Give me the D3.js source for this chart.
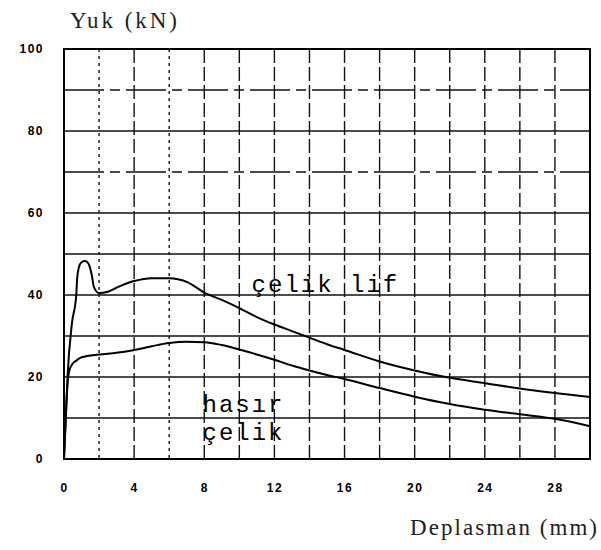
<!DOCTYPE html>
<html><head><meta charset="utf-8">
<script src="https://cdn.jsdelivr.net/npm/d3@7"></script>
<style>body{margin:0;background:#fff}</style>
</head><body>
<svg id="c" width="601" height="550"></svg>
<script>
// data
const celikLifX = [0, 0.1, 0.2, 0.45, 0.7, 0.75, 0.85, 1.0, 1.2, 1.4, 1.6, 1.7, 2.0, 2.5, 3.0, 4.0, 5.0, 6.0, 7.0, 8.0, 9.0, 10.0, 11, 12, 13, 14, 15, 16, 18, 20, 22, 24, 26, 28, 30];
const celikLifY = [0, 10, 20, 33, 40, 44, 46.8, 48, 48.3, 47.6, 44.5, 42, 40.5, 40.8, 41.8, 43.4, 44.1, 44.1, 43.2, 40.6, 38.8, 36.8, 34.6, 32.8, 31.2, 29.6, 28, 26.6, 23.8, 21.6, 19.8, 18.5, 17.2, 16.1, 15.1];
const hasirX = [0, 0.1, 0.2, 0.3, 0.45, 0.7, 1, 2, 3, 4, 5, 6, 7, 8, 9, 10, 11, 12, 13, 14, 15, 16, 18, 20, 22, 24, 26, 28, 30];
const hasirY = [0, 10, 18, 21.5, 23, 24, 24.8, 25.5, 25.9, 26.6, 27.5, 28.3, 28.6, 28.5, 27.8, 26.7, 25.5, 24.2, 22.8, 21.6, 20.5, 19.5, 17.3, 15.2, 13.4, 12, 10.9, 9.8, 8];
const xTicks = [0, 4, 8, 12, 16, 20, 24, 28];
const yTicks = [0, 20, 40, 60, 80, 100];
const xGrid = [2, 4, 6, 8, 10, 12, 14, 16, 18, 20, 22, 24, 26, 28];
const yGrid = [10, 20, 30, 40, 50, 60, 70, 80, 90];
const seriesLabels = [["çelik lif"], ["hasır", "çelik"]];
const labelPos = [[10.7, 40.8], [7.9, 11.5]];
const yTitle = "Yuk (kN)";
const xTitle = "Deplasman (mm)";

const svg = d3.select("#c");
const m = {l: 64, r: 11, t: 49, b: 91};
const W = 601, H = 550;
const x = d3.scaleLinear().domain([0, 30]).range([m.l, W - m.r]);
const y = d3.scaleLinear().domain([0, 100]).range([H - m.b, m.t]);

// grid
svg.append("g").selectAll("line").data(xGrid).join("line")
  .attr("x1", d => x(d)).attr("x2", d => x(d))
  .attr("y1", y(100)).attr("y2", y(0))
  .attr("stroke", "#111").attr("stroke-width", 1.4)
  .attr("stroke-dasharray", (d, i) => (d % 4 === 2 && d < 8) ? "3,4" : "14,4");
svg.append("g").selectAll("line").data(yGrid).join("line")
  .attr("x1", x(0)).attr("x2", x(30))
  .attr("y1", d => y(d)).attr("y2", d => y(d))
  .attr("stroke", "#111").attr("stroke-width", 1.5)
  .attr("stroke-dasharray", d => (d === 70 || d === 90) ? "40,6,10,6" : null);

// frame
svg.append("rect").attr("x", x(0)).attr("y", y(100))
  .attr("width", x(30) - x(0)).attr("height", y(0) - y(100))
  .attr("fill", "none").attr("stroke", "#000").attr("stroke-width", 2);

// axes
const ax = svg.append("g").attr("transform", `translate(0,${y(0)})`)
  .call(d3.axisBottom(x).tickValues(xTicks).tickSize(0).tickPadding(24).tickFormat(d3.format("d")));
const ay = svg.append("g").attr("transform", `translate(${x(0)},0)`)
  .call(d3.axisLeft(y).tickValues(yTicks).tickSize(0).tickPadding(20).tickFormat(d3.format("d")));
[ax, ay].forEach(a => {
  a.select(".domain").remove();
  a.selectAll("text").attr("font-family", "Liberation Sans, Arial, sans-serif")
    .attr("font-size", 12).attr("font-weight", "bold").attr("letter-spacing", 1.5).attr("fill", "#000");
});

// curves
const line = d3.line().x(d => x(d[0])).y(d => y(d[1])).curve(d3.curveMonotoneX);
svg.append("path").datum(celikLifX.map((v, i) => [v, celikLifY[i]]))
  .attr("d", line).attr("fill", "none").attr("stroke", "#000").attr("stroke-width", 2);
svg.append("path").datum(hasirX.map((v, i) => [v, hasirY[i]]))
  .attr("d", line).attr("fill", "none").attr("stroke", "#000").attr("stroke-width", 2);

// series labels
seriesLabels.forEach((lines, k) => {
  lines.forEach((t, j) => {
    svg.append("text").attr("x", x(labelPos[k][0])).attr("y", y(labelPos[k][1]) + j * 28)
      .attr("font-family", "Liberation Mono, Courier New, monospace").attr("font-size", 24)
      .attr("letter-spacing", 2).attr("fill", "#000").text(t);
  });
});

// titles
svg.append("text").attr("x", 70).attr("y", 28).attr("font-family", "Liberation Serif, Times New Roman, serif")
  .attr("font-size", 23).attr("fill", "#222").attr("textLength", 107).attr("lengthAdjust", "spacing").text(yTitle);
svg.append("text").attr("x", 410).attr("y", 535).attr("font-family", "Liberation Serif, Times New Roman, serif")
  .attr("font-size", 23).attr("fill", "#222").attr("textLength", 187).attr("lengthAdjust", "spacing").text(xTitle);
</script>
</body></html>
